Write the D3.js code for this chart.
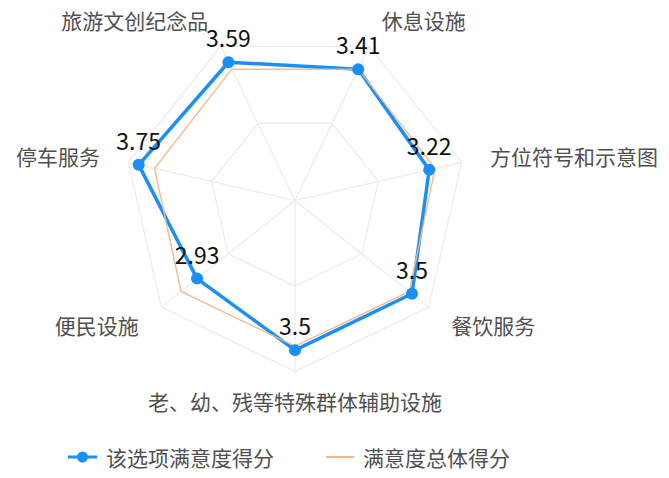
<!DOCTYPE html>
<html><head><meta charset="utf-8">
<script src="https://cdn.jsdelivr.net/npm/d3@7"></script>
<style>body{margin:0;background:#fff}svg{display:block}</style>
</head><body><svg id="c" width="669" height="478"></svg>
<script>
const categories = ["休息设施","方位符号和示意图","餐饮服务","老、幼、残等特殊群体辅助设施","便民设施","停车服务","旅游文创纪念品"];
const itemScores = [3.41, 3.22, 3.5, 3.5, 2.93, 3.75, 3.59];
const overallScores = [3.41, 3.36, 3.42, 3.41, 3.41, 3.37, 3.41];
const scaleTicks = [0, 2, 4];
const legendLabels = ["该选项满意度得分", "满意度总体得分"];

const W = 669, H = 478;
const cx = 295, cy = 200.5, R = 171;
const blue = "#1a8ff5", orange = "#f3b68c";
const font = "'Microsoft YaHei','Noto Sans CJK SC','Noto Sans',sans-serif";

const svg = d3.select("#c");
const g = svg.append("g").attr("transform", `translate(${cx},${cy})`);

const r = d3.scaleLinear().domain([0, 4]).range([0, R]);
const ang = d3.scaleLinear().domain([0, categories.length]).range([Math.PI/7, Math.PI/7 + 2*Math.PI]);
const pt = (i, v) => [Math.sin(ang(i)) * r(v), -Math.cos(ang(i)) * r(v)];

// grid rings
scaleTicks.filter(t => t > 0).forEach(t => {
  g.append("path")
    .attr("d", d3.line()(categories.map((c, i) => pt(i, t))) + "Z")
    .attr("fill", "none").attr("stroke", "#ebebeb").attr("stroke-width", 1.2);
});
// spokes
categories.forEach((c, i) => {
  const p = pt(i, 4);
  g.append("line").attr("x1", 0).attr("y1", 0).attr("x2", p[0]).attr("y2", p[1])
    .attr("stroke", "#ebebeb").attr("stroke-width", 1.2);
});

// axis labels
categories.forEach((c, i) => {
  const a = ang(i);
  const d = R + 29;
  const x = Math.sin(a) * d, y = -Math.cos(a) * d;
  const s = Math.sin(a);
  const anchor = Math.abs(s) < 0.05 ? "middle" : (s > 0 ? "start" : "end");
  g.append("text").attr("x", x).attr("y", y)
    .attr("text-anchor", anchor).attr("dominant-baseline", "central")
    .attr("font-family", font).attr("font-size", 21).attr("fill", "#505050")
    .text(c);
});

const line = d3.lineRadial().angle((d, i) => ang(i)).radius(d => r(d)).curve(d3.curveLinearClosed);

g.append("path").attr("d", line(itemScores))
  .attr("fill", "none").attr("stroke", blue).attr("stroke-width", 3.5).attr("stroke-linejoin", "round");
g.append("path").attr("d", line(overallScores))
  .attr("fill", "none").attr("stroke", orange).attr("stroke-width", 1.5).attr("stroke-opacity", 0.9);

itemScores.forEach((v, i) => {
  const p = pt(i, v);
  g.append("circle").attr("cx", p[0]).attr("cy", p[1]).attr("r", 6).attr("fill", blue);
  g.append("text").attr("x", p[0]).attr("y", p[1] - 15)
    .attr("text-anchor", "middle")
    .attr("font-family", font).attr("font-size", 23).attr("fill", "#111")
    .text(v);
});

// legend
const ly = 457;
const lg = svg.append("g");
lg.append("line").attr("x1", 68).attr("x2", 97).attr("y1", ly).attr("y2", ly)
  .attr("stroke", blue).attr("stroke-width", 3);
lg.append("circle").attr("cx", 82.5).attr("cy", ly).attr("r", 5.5).attr("fill", blue);
lg.append("text").attr("x", 106).attr("y", ly).attr("dominant-baseline", "central")
  .attr("font-family", font).attr("font-size", 21).attr("fill", "#505050").text(legendLabels[0]);
lg.append("line").attr("x1", 326).attr("x2", 354).attr("y1", ly).attr("y2", ly)
  .attr("stroke", orange).attr("stroke-width", 2);
lg.append("text").attr("x", 363).attr("y", ly).attr("dominant-baseline", "central")
  .attr("font-family", font).attr("font-size", 21).attr("fill", "#505050").text(legendLabels[1]);
</script>
</body></html>
